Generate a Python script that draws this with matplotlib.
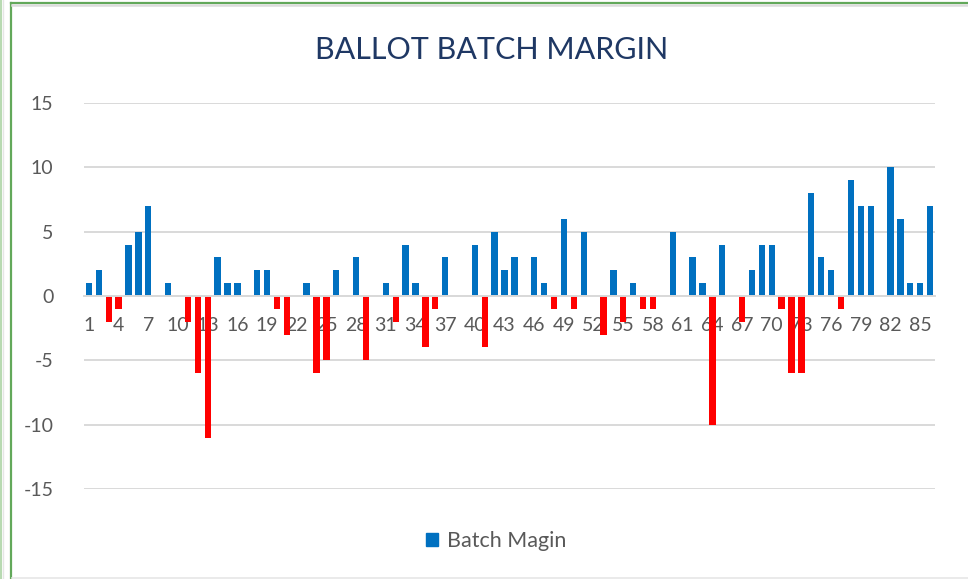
import matplotlib
matplotlib.use("Agg")
import matplotlib.pyplot as plt
from matplotlib.patches import Rectangle
from matplotlib.lines import Line2D

# ---- data ----
batches = list(range(1, 87))
margins = [1, 2, -2, -1, 4, 5, 7, 0, 1, 0,
           -2, -6, -11, 3, 1, 1, 0, 2, 2, -1,
           -3, 0, 1, -6, -5, 2, 0, 3, -5, 0,
           1, -2, 4, 1, -4, -1, 3, 0, 0, 4,
           -4, 5, 2, 3, 0, 3, 1, -1, 6, -1,
           5, 0, -3, 2, -2, 1, -1, -1, 0, 5,
           0, 3, 1, -10, 4, 0, -2, 2, 4, 4,
           -1, -6, -6, 8, 3, 2, -1, 9, 7, 7,
           0, 10, 6, 1, 1, 7]
xtick_batches = list(range(1, 87, 3))
yticks = [-15, -10, -5, 0, 5, 10, 15]
title = "BALLOT BATCH MARGIN"
series_name = "Batch Magin"

POS = "#0070C0"
NEG = "#FF0000"

W, H = 968, 579
fig = plt.figure(figsize=(W / 100, H / 100), dpi=100)
fig.patch.set_facecolor("white")

font = ["Lato", "DejaVu Sans"]

ax = fig.add_axes([84 / W, 1 - 489 / H, (935 - 84) / W, (489 - 103) / H])
for s in ["top", "right", "left"]:
    ax.spines[s].set_visible(False)
ax.spines["bottom"].set_position(("data", 0))
ax.spines["bottom"].set_color("#d9d9d9")
ax.spines["bottom"].set_linewidth(1.4)

colors = [POS if v >= 0 else NEG for v in margins]
ax.bar(batches, margins, width=0.64, color=colors, zorder=2)

ax.set_xlim(0.5, 86.5)
ax.set_ylim(-15, 15)
ax.set_yticks(yticks)
ax.set_yticklabels([str(t) for t in yticks], fontsize=14, color="#595959", family=font)
ax.set_xticks(xtick_batches)
ax.set_xticklabels([str(b) for b in xtick_batches], fontsize=14, color="#595959", family=font)
ax.tick_params(axis="both", length=0)
ax.tick_params(axis="y", pad=22)
ax.tick_params(axis="x", pad=15)
ax.set_axisbelow(True)
ax.grid(axis="y", color="#d9d9d9", linewidth=1.4)

fig.text(491.5 / W, 1 - 50 / H, title, ha="center", va="center",
         fontsize=22, color="#1F3864", family=font)

handle = Rectangle((0, 0), 1, 1, color=POS)
fig.legend([handle], [series_name], loc="center",
           bbox_to_anchor=(496 / W, 1 - 541 / H), frameon=False,
           handlelength=0.55, handleheight=0.55, handletextpad=0.4,
           prop={"family": font, "size": 15.5}, labelcolor="#595959")

# ---- frame (green selection border of the screenshot) ----
def fx(px):
    return px / W

def fy(py):
    return 1 - py / H

fig.add_artist(Line2D([fx(0.8), fx(0.8)], [0, 1], color="#b8dab2", linewidth=1.5))
fig.add_artist(Line2D([fx(2.5), fx(2.5)], [0, 1], color="#e6e6e6", linewidth=1.0))
fig.add_artist(Line2D([fx(11), fx(11)], [0, fy(3)], color="#62a85a", linewidth=1.6))
fig.add_artist(Line2D([fx(11), 1], [fy(3.2), fy(3.2)], color="#62a85a", linewidth=1.6))
fig.add_artist(Line2D([fx(12), 1], [fy(5.3), fy(5.3)], color="#dcdcdc", linewidth=1.8))
fig.add_artist(Line2D([fx(12), 1], [fy(578), fy(578)], color="#e6e6e6", linewidth=1.2))

fig.savefig("out.png", dpi=100, facecolor="white")
